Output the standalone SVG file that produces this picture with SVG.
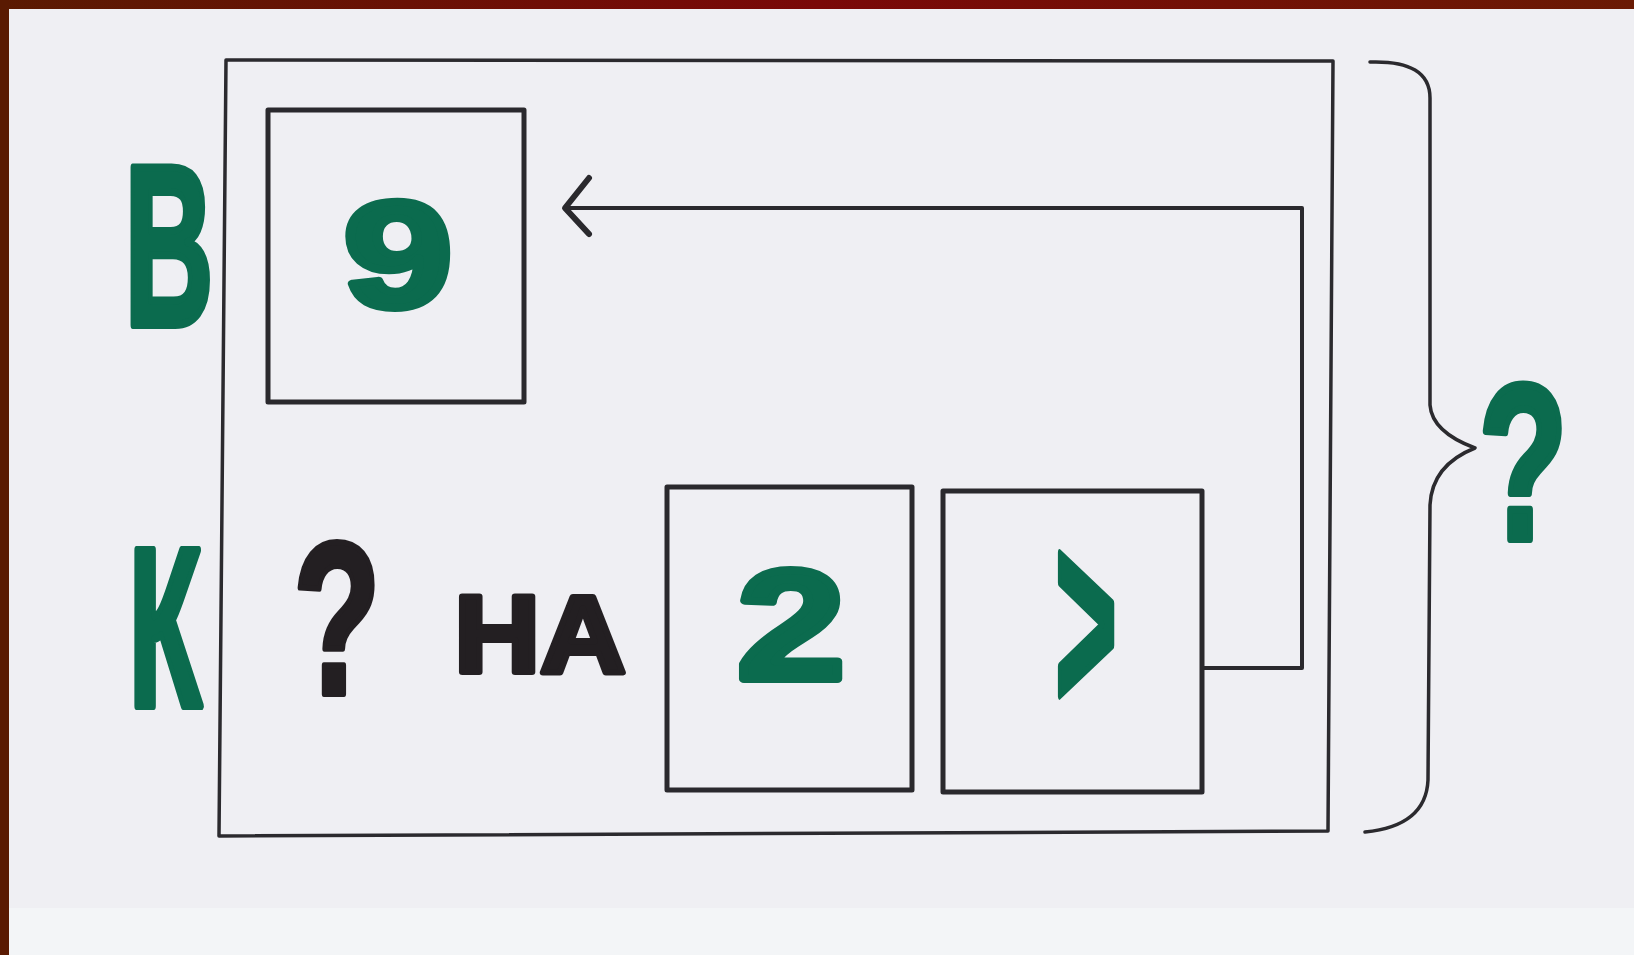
<svg xmlns="http://www.w3.org/2000/svg" width="1634" height="955" viewBox="0 0 1634 955">
<defs>
<style>
.frame{fill:none;stroke:#2b2a2e;stroke-width:3.5;stroke-linejoin:round;stroke-linecap:round}
.box{fill:none;stroke:#2a292d;stroke-width:5;stroke-linejoin:round}
.conn{fill:none;stroke:#2a292d;stroke-width:4;stroke-linejoin:round}
.g{fill:#0b6b4e;stroke:#0b6b4e;stroke-width:8;stroke-linejoin:round;font-family:"Liberation Sans",Arial,sans-serif;font-weight:bold;text-anchor:middle}
.k{fill:#231f22;stroke:#231f22;stroke-width:6;stroke-linejoin:round;font-family:"Liberation Sans",Arial,sans-serif;font-weight:bold;text-anchor:middle}
</style>
<linearGradient id="topbar" x1="0" y1="0" x2="1" y2="0">
<stop offset="0" stop-color="#5a1a02"/>
<stop offset="0.5" stop-color="#7a0808"/>
<stop offset="1" stop-color="#6a1a04"/>
</linearGradient>
<marker id="arrowOpen" markerUnits="userSpaceOnUse" markerWidth="60" markerHeight="80" viewBox="-30 -40 60 80" refX="0" refY="0" orient="auto" overflow="visible">
<path d="M-24,30 L0,0 L-24,-26" fill="none" stroke="#2a292d" stroke-width="6" stroke-linecap="round" stroke-linejoin="round"/>
</marker>
</defs>
<rect x="0" y="0" width="1634" height="955" fill="#efeff3"/>
<rect x="0" y="908" width="1634" height="47" fill="#f3f5f7"/>
<rect x="0" y="0" width="1634" height="9" fill="url(#topbar)"/>
<rect x="0" y="0" width="9" height="955" fill="#5a1a02"/>

<g id="frame">
<path class="frame" d="M226,60 L1333,61 L1328,831 L219,836 Z"/>
</g>

<g id="label-B"><text class="g" transform="translate(169,325) scale(0.54,1)" font-size="228">В</text></g>
<g id="label-K"><text class="g" transform="translate(165,706) scale(0.53,1)" font-size="226">К</text></g>

<g id="box-9">
<rect class="box" x="268" y="110" width="256" height="292"/>
<text class="g" transform="translate(398,307) scale(1.3,1)" font-size="150">9</text>
</g>

<g id="question-ha">
<text class="k" transform="translate(337,694) scale(0.66,1)" font-size="218">?</text>
<text class="k" transform="translate(540,672) scale(1.08,1)" font-size="110">НА</text>
</g>

<g id="box-2">
<rect class="box" x="667" y="487" width="245" height="303"/>
<text class="g" transform="translate(791,679) scale(1.25,1)" font-size="155">2</text>
</g>

<g id="box-gt">
<rect class="box" x="943" y="491" width="259" height="301"/>
<text class="g" transform="translate(1086,712) scale(0.4,1)" font-size="265">&gt;</text>
</g>

<g id="connectors">
<path class="conn" d="M1203,668 L1302,668 L1302,208 L565,208" marker-end="url(#arrowOpen)"/>
</g>

<g id="brace">
<path class="frame" d="M1370,62 Q1430,60 1430,98 L1430,405 Q1432,432 1475,448 Q1432,465 1430,505 L1428,780 Q1426,826 1365,832"/>
</g>

<g id="result">
<text class="g" transform="translate(1523,539) scale(0.66,1)" font-size="220">?</text>
</g>
</svg>
